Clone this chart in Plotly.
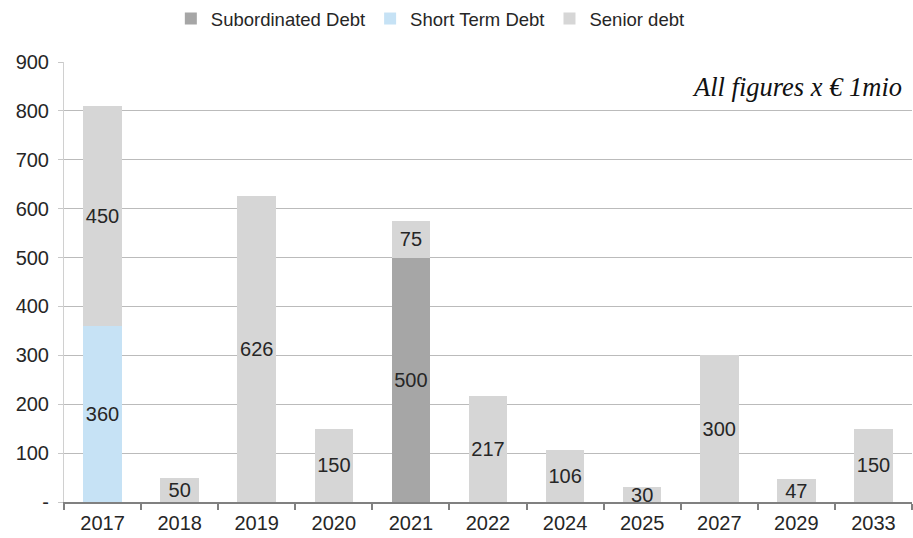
import plotly.graph_objects as go

categories = ["2017", "2018", "2019", "2020", "2021", "2022", "2024", "2025", "2027", "2029", "2033"]
subordinated = [None, None, None, None, 500, None, None, None, None, None, None]
short_term = [360, None, None, None, None, None, None, None, None, None, None]
senior = [450, 50, 626, 150, 75, 217, 106, 30, 300, 47, 150]
y_ticks = [0, 100, 200, 300, 400, 500, 600, 700, 800, 900]
y_ticktext = ["-", "100", "200", "300", "400", "500", "600", "700", "800", "900"]

FONT = "Liberation Sans, Arial, sans-serif"
TXT = "#262626"

def labels(vals):
    return [("" if v is None else str(v)) for v in vals]

fig = go.Figure()
fig.add_trace(go.Bar(name="Subordinated Debt", x=categories, y=subordinated,
                     marker_color="#A6A6A6", text=labels(subordinated)))
fig.add_trace(go.Bar(name="Short Term Debt", x=categories, y=short_term,
                     marker_color="#C6E2F5", text=labels(short_term)))
fig.add_trace(go.Bar(name="Senior debt", x=categories, y=senior,
                     marker_color="#D6D6D6", text=labels(senior)))
fig.update_traces(textposition="inside", insidetextanchor="middle", textangle=0,
                  textfont=dict(family=FONT, size=20, color=TXT),
                  cliponaxis=False, marker_line_width=0)

fig.update_layout(
    width=913, height=538,
    barmode="stack", bargap=0.5,
    plot_bgcolor="white", paper_bgcolor="white",
    margin=dict(l=64, r=1, t=62, b=36, autoexpand=False),
    font=dict(family=FONT, size=20, color=TXT),
    uniformtext=dict(minsize=20, mode="show"),
    legend=dict(orientation="h", x=0.432, xanchor="center", y=1.0, yanchor="top",
                yref="container", font=dict(size=18.5, color=TXT),
                itemwidth=30, traceorder="normal", tracegroupgap=0),
    showlegend=True,
)
fig.update_yaxes(range=[0, 900], tickvals=y_ticks, ticktext=y_ticktext,
                 showgrid=True, gridcolor="#BBBBBB", gridwidth=1,
                 showline=True, linecolor="#D0D0D0", linewidth=1,
                 ticks="outside", ticklen=5, tickcolor="#C8C8C8",
                 ticklabelstandoff=5,
                 zeroline=False, tickfont=dict(size=20, color=TXT))
fig.update_xaxes(type="category", showline=True, linecolor="#808080", linewidth=2,
                 ticks="outside", tickson="boundaries", ticklen=6, tickcolor="#808080",
                 tickwidth=2, ticklabelstandoff=2, tickfont=dict(size=20, color=TXT))
fig.add_annotation(text="<i>All figures x € 1mio</i>", xref="paper", yref="paper",
                   x=0.991, y=0.943, xanchor="right", yanchor="middle", showarrow=False,
                   font=dict(family="Liberation Serif, Times New Roman, serif", size=26.5, color="#111111"))

fig.write_html("out.html", config={"displayModeBar": False},
               post_script="document.body.style.margin='0';document.body.style.overflow='hidden';")
